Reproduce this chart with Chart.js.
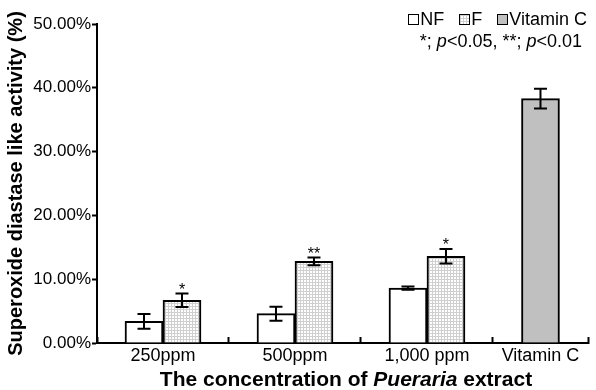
<!DOCTYPE html>
<html><head><meta charset="utf-8">
<script src="https://cdn.jsdelivr.net/npm/chart.js@4.4.0/dist/chart.umd.min.js"></script>
<style>
html,body{margin:0;padding:0;background:#fff;}
#wrap{position:relative;width:596px;height:390px;overflow:hidden;font-family:"Liberation Sans",Arial,sans-serif;color:#000;}
canvas{position:absolute;left:0;top:0;}
#legend{position:absolute;right:9px;top:9px;font-size:18px;line-height:20px;white-space:nowrap;display:flex;align-items:center;}
.item{display:flex;align-items:center;margin-left:15px;}
.box{width:9px;height:9px;border:1.5px solid #000;margin-right:1px;}
.nf{background:#fff;}
.f{background-color:#fff;background-image:linear-gradient(#cfcfcf 1px,transparent 1px),linear-gradient(90deg,#cfcfcf 1px,transparent 1px);background-size:3px 3px;}
.vc{background:#c0c0c0;}
#pnote{position:absolute;right:14px;top:31px;font-size:18px;line-height:20px;white-space:nowrap;}
#xtitle{position:absolute;left:97px;width:498px;top:367px;text-align:center;font-weight:bold;font-size:21px;line-height:24px;white-space:nowrap;}
</style></head><body>
<div id="wrap"><canvas id="c" width="596" height="390"></canvas>
<div id="legend"></div>
<div id="pnote">*; <i>p</i>&lt;0.05, **; <i>p</i>&lt;0.01</div>
<div id="xtitle">The concentration of <i>Pueraria</i> extract</div></div>
<script>
// ---- data ----
const categories = ['250ppm', '500ppm', '1,000 ppm', 'Vitamin C'];
const seriesNames = ['NF', 'F', 'Vitamin C'];
const nfValues = [3.4, 4.6, 8.6];
const nfErrors = [1.15, 1.1, 0.25];
const fValues = [6.7, 12.8, 13.6];
const fErrors = [1.05, 0.6, 1.15];
const vitCValues = [38.3];
const vitCErrors = [1.55];
const significance = ['*', '**', '*'];
const yTicks = [0, 10, 20, 30, 40, 50];

// ---- layout (category slot edges on the x scale) ----
const categoryEdges = [0, 1, 2, 3, 3.72];
const centers = categories.map((c, i) => (categoryEdges[i] + categoryEdges[i + 1]) / 2);
const FONT = '"Liberation Sans", Arial, sans-serif';

const ctx = document.getElementById('c').getContext('2d');
function makePattern() {
  const t = document.createElement('canvas'); t.width = 3; t.height = 3;
  const g = t.getContext('2d');
  g.fillStyle = '#fff'; g.fillRect(0, 0, 3, 3);
  g.fillStyle = '#cfcfcf'; g.fillRect(0, 0, 3, 1); g.fillRect(0, 0, 1, 3);
  return ctx.createPattern(t, 'repeat');
}
const fPattern = makePattern();

// HTML legend
const legendClasses = ['nf', 'f', 'vc'];
const legendEl = document.getElementById('legend');
seriesNames.forEach((n, i) => {
  const it = document.createElement('span'); it.className = 'item';
  const b = document.createElement('span'); b.className = 'box ' + legendClasses[i];
  const t = document.createElement('span'); t.textContent = n;
  it.appendChild(b); it.appendChild(t); legendEl.appendChild(it);
});

const errorBars = {
  id: 'errorBars',
  afterDatasetsDraw(chart) {
    const c = chart.ctx, ys = chart.scales.y;
    c.save();
    c.strokeStyle = '#000'; c.fillStyle = '#000'; c.lineWidth = 2;
    chart.data.datasets.forEach((ds, di) => {
      const meta = chart.getDatasetMeta(di);
      meta.data.forEach((bar, i) => {
        const v = ds.data[i].y, e = ds.errors[i];
        const yt = ys.getPixelForValue(v + e), yb = ys.getPixelForValue(v - e);
        const x = bar.x, hw = 6.5;
        c.beginPath();
        c.moveTo(x, yt); c.lineTo(x, yb);
        c.moveTo(x - hw, yt); c.lineTo(x + hw, yt);
        c.moveTo(x - hw, yb); c.lineTo(x + hw, yb);
        c.stroke();
        if (ds.stars && ds.stars[i]) {
          c.font = '16px ' + FONT;
          c.textAlign = 'center'; c.textBaseline = 'alphabetic';
          c.fillText(ds.stars[i], x, yt + 1);
        }
      });
    });
    c.restore();
  }
};

new Chart(ctx, {
  type: 'bar',
  data: {
    datasets: [
      { label: seriesNames[0], data: nfValues.map((v, i) => ({ x: centers[i], y: v })), errors: nfErrors,
        backgroundColor: '#fff', borderColor: '#000', borderWidth: 2, barThickness: 38 },
      { label: seriesNames[1], data: fValues.map((v, i) => ({ x: centers[i], y: v })), errors: fErrors, stars: significance,
        backgroundColor: fPattern, borderColor: '#000', borderWidth: 2, barThickness: 38 },
      { label: seriesNames[2], data: vitCValues.map((v, i) => ({ x: centers[3 + i], y: v })), errors: vitCErrors,
        grouped: false, backgroundColor: '#c0c0c0', borderColor: '#000', borderWidth: 2, barThickness: 38 }
    ]
  },
  options: {
    responsive: false, animation: false, devicePixelRatio: 1,
    layout: { padding: { top: 24, right: 1, left: 0, bottom: 0 } },
    plugins: { legend: { display: false }, tooltip: { enabled: false } },
    scales: {
      x: {
        type: 'linear', min: 0, max: categoryEdges[categoryEdges.length - 1], offset: false,
        afterBuildTicks(s) {
          const vals = [...new Set([...categoryEdges, ...centers])].sort((a, b) => a - b);
          s.ticks = vals.map(v => ({ value: v }));
        },
        afterFit(s) { s.height = 47; },
        border: { color: '#000', width: 2 },
        grid: {
          offset: false, drawOnChartArea: false, drawTicks: true, tickLength: -6, tickWidth: 2,
          tickColor: (c) => (c.tick && categoryEdges.includes(c.tick.value)) ? '#000' : 'rgba(0,0,0,0)'
        },
        ticks: {
          autoSkip: false, maxRotation: 0, minRotation: 0, padding: 8, color: '#000',
          font: { family: FONT, size: 18 },
          callback: (v) => { const i = centers.indexOf(v); return i >= 0 ? categories[i] : ''; }
        }
      },
      y: {
        min: 0, max: 50,
        afterBuildTicks(s) { s.ticks = yTicks.map(v => ({ value: v })); },
        afterFit(s) { s.width = 97; },
        border: { color: '#000', width: 2 },
        grid: { drawOnChartArea: false, drawTicks: true, tickLength: 5, tickWidth: 2, tickColor: '#000' },
        ticks: { padding: 1, color: '#000', font: { family: FONT, size: 17 }, callback: (v) => v.toFixed(2) + '%' },
        title: { display: true, text: 'Superoxide diastase like activity (%)', color: '#000',
          font: { family: FONT, size: 20, weight: 'bold' }, padding: { top: 4, bottom: 0 } }
      }
    }
  },
  plugins: [errorBars]
});
</script>
</body></html>
